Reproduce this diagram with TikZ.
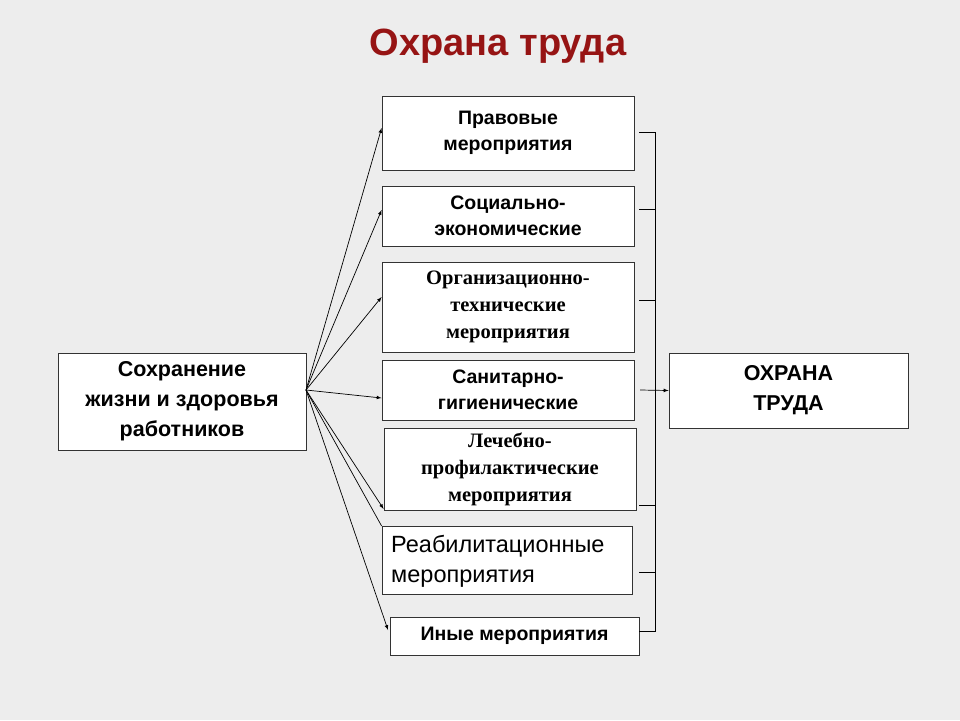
\documentclass[tikz,border=0pt]{standalone}
\usepackage{fontspec}
\setmainfont{Liberation Sans}
\newfontfamily\serifb{Liberation Serif}
\begin{document}
\begin{tikzpicture}[x=1pt,y=-1pt,
  bx/.style={draw=black!80,fill=white,line width=0.8pt,align=center,inner sep=0pt},
  sb/.style={font=\bfseries\fontsize{19.5}{26}\selectfont},
  tb/.style={font=\serifb\bfseries\fontsize{20.5}{27}\selectfont},
  ar/.style={-latex,line width=0.7pt},
  ln/.style={line width=0.7pt}]
\fill[gray!14] (0,0) rectangle (960,720);
\useasboundingbox (0,0) rectangle (960,720);
\node[font=\bfseries\fontsize{38}{44}\selectfont,text={rgb,255:red,150;green,20;blue,20}] (title) at (498,46) {Охрана труда};
\node[bx,minimum width=248,minimum height=97,font=\bfseries\fontsize{21.5}{30}\selectfont] (src) at (182,401.5) {Сохранение\\жизни и здоровья\\работников};
\node[bx,minimum width=239,minimum height=75,font=\bfseries\fontsize{21.5}{30}\selectfont] (dst) at (788.5,390.5) {ОХРАНА\\ТРУДА};
\node[bx,sb,minimum width=252,minimum height=74] (b1) at (508,133) {Правовые\\мероприятия};
\node[bx,sb,minimum width=252,minimum height=60] (b2) at (508,216) {Социально-\\экономические};
\node[bx,tb,minimum width=252,minimum height=90] (b3) at (508,307) {Организационно-\\технические\\мероприятия};
\node[bx,sb,minimum width=252,minimum height=60] (b4) at (508,390) {Санитарно-\\гигиенические};
\node[bx,tb,minimum width=252,minimum height=82] (b5) at (510,469) {Лечебно-\\профилактические\\мероприятия};
\node[bx,minimum width=250,minimum height=68] (b6) at (507,560) {};
\node[anchor=west,align=left,inner sep=0pt,font=\fontsize{23.5}{30}\selectfont] (b6t) at (391,561) {Реабилитационные\\мероприятия};
\node[bx,sb,minimum width=249,minimum height=38] (b7) at (514.5,636) {Иные мероприятия};
\coordinate (o) at (306,390);
\draw[ar] (o) -- (b1.west |- 0,128);
\draw[ar] (o) -- (b2.west |- 0,210);
\draw[ar] (o) -- (b3.west |- 0,297);
\draw[ar] (o) -- (b4.west |- 0,398);
\draw[ar] (o) -- (b5.west |- 0,509);
\draw[ln] (o) -- (b6.west |- 0,526);
\draw[ar] (o) -- (388,630);
\coordinate (t1) at (655,132);
\coordinate (t7) at (655,631);
\draw[ln] (639,132) -- (t1) -- (t7) -- (639,631);
\foreach \yy in {209,300,505,572} \draw[ln] (639,\yy) -- (655,\yy);
\draw[ar] (640,390) -- (dst.west);
\end{tikzpicture}
\end{document}
